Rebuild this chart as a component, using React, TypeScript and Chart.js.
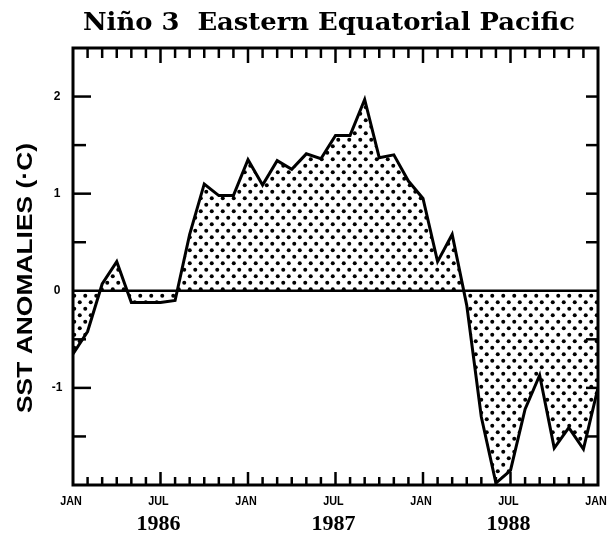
import React, { useEffect, useRef } from "react";
import { Chart, registerables } from "chart.js";

Chart.register(...registerables);

// Monthly SST anomalies (°C), Jan 1986 .. Jan 1989
const sst1986 = [-0.65, -0.42, 0.07, 0.3, -0.12, -0.12, -0.12, -0.1, 0.58, 1.1, 0.98, 0.98];
const sst1987 = [1.35, 1.09, 1.34, 1.25, 1.41, 1.36, 1.6, 1.6, 1.97, 1.37, 1.4, 1.13];
const sst1988 = [0.95, 0.3, 0.58, -0.15, -1.3, -1.98, -1.85, -1.22, -0.87, -1.62, -1.41, -1.63];
const sst1989 = [-1.0];

const xTickMonths = [0, 6, 12, 18, 24, 30, 36];
const xTickLabels = ["JAN", "JUL", "JAN", "JUL", "JAN", "JUL", "JAN"];
const yearMonths = [6, 18, 30];
const yearLabels = ["1986", "1987", "1988"];
const yTickValues = [2, 1, 0, -1];
const yTickLabels = ["2", "1", "0", "-1"];
const yMinorTicks = [2, 1.5, 1, 0.5, -0.5, -1, -1.5];

const titleText = "Niño 3  Eastern Equatorial Pacific";
const yAxisTitle = "SST ANOMALIES (·C)";

function makeDotPattern(): CanvasPattern | string {
  const c = document.createElement("canvas");
  c.width = 11;
  c.height = 13;
  const g = c.getContext("2d");
  if (!g) return "rgba(0,0,0,0.3)";
  g.fillStyle = "#000";
  g.beginPath();
  g.arc(2.75, 3.25, 2.0, 0, Math.PI * 2);
  g.fill();
  g.beginPath();
  g.arc(8.25, 9.75, 2.0, 0, Math.PI * 2);
  g.fill();
  const p = g.createPattern(c, "repeat");
  return p || "rgba(0,0,0,0.3)";
}

const decorPlugin = {
  id: "decor",
  afterDatasetsDraw(chart: any) {
    const { ctx, chartArea: a, scales } = chart;
    const x = scales.x;
    const y = scales.y;
    const seg = (x1: number, y1: number, x2: number, y2: number) => {
      ctx.beginPath();
      ctx.moveTo(x1, y1);
      ctx.lineTo(x2, y2);
      ctx.stroke();
    };
    ctx.save();
    ctx.strokeStyle = "#000";
    ctx.fillStyle = "#000";
    ctx.lineCap = "butt";

    // zero line
    ctx.lineWidth = 2.5;
    const y0 = y.getPixelForValue(0);
    seg(a.left, y0, a.right, y0);

    // month ticks top & bottom
    ctx.lineWidth = 2.5;
    for (let m = 1; m < 36; m++) {
      const px = x.getPixelForValue(m);
      const major = m % 6 === 0;
      seg(px, a.bottom, px, a.bottom - (major ? 13 : 8));
      seg(px, a.top, px, a.top + (major ? 15 : 10));
    }
    // value ticks left & right
    for (const v of yMinorTicks) {
      const py = y.getPixelForValue(v);
      const major = Number.isInteger(v);
      seg(a.left, py, a.left + (major ? 18 : 13), py);
      seg(a.right, py, a.right - 12, py);
    }

    // frame
    ctx.lineWidth = 3;
    ctx.strokeRect(a.left, a.top, a.right - a.left, a.bottom - a.top);

    // y tick labels
    ctx.font = "bold 12px 'Liberation Sans', Arial, sans-serif";
    ctx.textAlign = "center";
    ctx.textBaseline = "middle";
    yTickValues.forEach((v, i) => {
      ctx.fillText(yTickLabels[i], 57, y.getPixelForValue(v));
    });

    // x tick labels
    ctx.font = "bold 12px 'Liberation Sans', Arial, sans-serif";
    ctx.textBaseline = "middle";
    xTickMonths.forEach((m, i) => {
      ctx.save();
      ctx.translate(x.getPixelForValue(m) - 2, 502);
      ctx.scale(0.9, 1);
      ctx.fillText(xTickLabels[i], 0, 0);
      ctx.restore();
    });

    // year labels
    ctx.font = "bold 22px 'Liberation Serif', 'DejaVu Serif', serif";
    ctx.textBaseline = "middle";
    yearMonths.forEach((m, i) => {
      ctx.fillText(yearLabels[i], x.getPixelForValue(m) - 2, 524);
    });

    // title
    ctx.font = "bold 25px 'DejaVu Serif', serif";
    ctx.textBaseline = "alphabetic";
    ctx.textAlign = "center";
    const tw = ctx.measureText(titleText).width;
    const target = 492;
    ctx.save();
    ctx.translate(329, 30);
    ctx.scale(target / tw, 1);
    ctx.fillText(titleText, 0, 0);
    ctx.restore();

    // y axis title
    ctx.save();
    ctx.font = "bold 22px 'Liberation Sans', Arial, sans-serif";
    ctx.translate(26, 278);
    ctx.rotate(-Math.PI / 2);
    ctx.textAlign = "center";
    ctx.textBaseline = "middle";
    const yw = ctx.measureText(yAxisTitle).width;
    ctx.scale(270 / yw, 1);
    ctx.fillText(yAxisTitle, 0, 0);
    ctx.restore();

    ctx.restore();
  },
};

export default function App() {
  const ref = useRef<HTMLCanvasElement | null>(null);
  useEffect(() => {
    if (!ref.current) return;
    const values = [...sst1986, ...sst1987, ...sst1988, ...sst1989];
    const points = values.map((v, i) => ({ x: i, y: v }));
    const chart = new Chart(ref.current, {
      type: "line",
      data: {
        datasets: [
          {
            data: points,
            borderColor: "#000",
            borderWidth: 3,
            borderJoinStyle: "miter",
            backgroundColor: makeDotPattern() as any,
            fill: { target: { value: 0 } } as any,
            pointRadius: 0,
            tension: 0,
          },
        ],
      },
      options: {
        animation: false,
        responsive: true,
        maintainAspectRatio: false,
        events: [],
        layout: { padding: { left: 73, right: 18, top: 48, bottom: 49 } },
        plugins: { legend: { display: false }, tooltip: { enabled: false }, title: { display: false } },
        scales: {
          x: { type: "linear", min: 0, max: 36, display: false },
          y: { type: "linear", min: -2, max: 2.5, display: false },
        },
      },
      plugins: [decorPlugin],
    });
    return () => chart.destroy();
  }, []);
  return (
    <div style={{ position: "absolute", left: 0, top: 0, width: 616, height: 534, background: "#fff" }}>
      <canvas ref={ref} />
    </div>
  );
}
